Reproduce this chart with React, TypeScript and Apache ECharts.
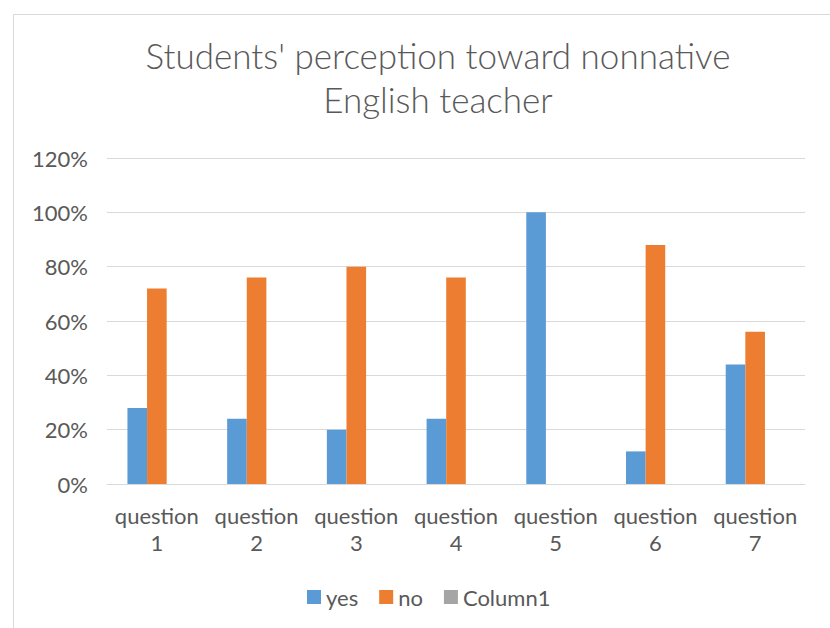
import React, { useEffect, useRef } from "react";
import * as echarts from "echarts";

const categories = ["question\n1", "question\n2", "question\n3", "question\n4", "question\n5", "question\n6", "question\n7"];
const yesValues = [28, 24, 20, 24, 100, 12, 44];
const noValues = [72, 76, 80, 76, 0, 88, 56];
const column1Values = [0, 0, 0, 0, 0, 0, 0];
const seriesNames = ["yes", "no", "Column1"];
const titleText = "Students' perception toward nonnative\nEnglish teacher";

const FONT = "Lato, 'Open Sans', sans-serif";

export default function App() {
  const ref = useRef<HTMLDivElement>(null);
  useEffect(() => {
    if (!ref.current) return;
    const chart = echarts.init(ref.current, null, { renderer: "svg" });
    chart.setOption({
      animation: false,
      backgroundColor: "#ffffff",
      title: {
        text: titleText,
        left: 433,
        textAlign: "center",
        top: 28,
        textStyle: { fontFamily: FONT, fontSize: 35, fontWeight: 300, color: "#595959", lineHeight: 44 },
      },
      graphic: [
        {
          type: "rect",
          shape: { x: 13.5, y: 14.5, width: 830, height: 640 },
          style: { fill: "none", stroke: "#d9d9d9", lineWidth: 1 },
          silent: true,
        },
      ],
      legend: {
        data: seriesNames,
        bottom: 15,
        left: 302,
        itemWidth: 14,
        itemHeight: 14,
        itemGap: 21,
        icon: "rect",
        textStyle: { fontFamily: FONT, fontSize: 22, color: "#595959" },
      },
      grid: { left: 107, right: 25, top: 158, bottom: 144, containLabel: false },
      xAxis: {
        type: "category",
        data: categories,
        axisLine: { lineStyle: { color: "#d9d9d9", width: 1 } },
        axisTick: { show: false },
        axisLabel: { fontFamily: FONT, fontSize: 22, color: "#595959", lineHeight: 27, margin: 18, interval: 0 },
      },
      yAxis: {
        type: "value",
        min: 0,
        max: 120,
        interval: 20,
        axisLine: { show: false },
        axisTick: { show: false },
        splitLine: { lineStyle: { color: "#d9d9d9", width: 1 } },
        axisLabel: { fontFamily: FONT, fontSize: 22, color: "#595959", formatter: "{value}%", margin: 19 },
      },
      series: [
        { name: seriesNames[0], type: "bar", data: yesValues, itemStyle: { color: "#5B9BD5" }, barGap: "0%", barCategoryGap: "41%" },
        { name: seriesNames[1], type: "bar", data: noValues, itemStyle: { color: "#ED7D31" }, barGap: "0%", barCategoryGap: "41%" },
        { name: seriesNames[2], type: "bar", data: column1Values, itemStyle: { color: "#A5A5A5" }, barGap: "0%", barCategoryGap: "41%" },
      ],
    });
    return () => chart.dispose();
  }, []);
  return <div ref={ref} style={{ position: "absolute", left: 0, top: 0, width: 830, height: 628 }} />;
}
